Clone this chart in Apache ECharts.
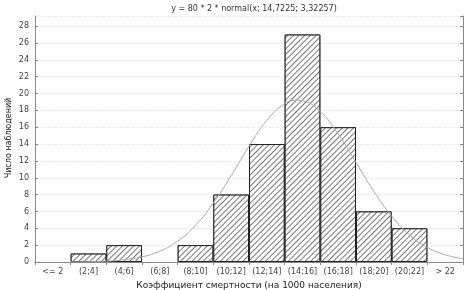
<!DOCTYPE html>
<html>
<head>
<meta charset="utf-8">
<script src="https://cdn.jsdelivr.net/npm/echarts@6/dist/echarts.min.js"></script>
<style>
  html, body { margin: 0; padding: 0; background: #fff; }
  #chart { width: 465px; height: 290px; }
</style>
</head>
<body>
<div id="chart"></div>
<script>
// категории (интервалы коэффициента)
var categories = ['<= 2', '(2;4]', '(4;6]', '(6;8]', '(8;10]', '(10;12]', '(12;14]', '(14;16]', '(16;18]', '(18;20]', '(20;22]', '> 22'];
// число наблюдений
var counts = [0, 1, 2, 0, 2, 8, 14, 27, 16, 6, 4, 0];
// кривая нормального распределения
var curveX = [2, 4, 5, 6, 7, 8, 9, 10, 11, 12, 13, 14, 14.7, 15, 16, 17, 18, 19, 20, 21, 22, 23, 24];
var curveY = [0.01, 0.1, 0.27, 0.61, 1.29, 2.48, 4.36, 7.0, 10.26, 13.73, 16.8, 18.77, 19.21, 19.14, 17.84, 15.19, 11.81, 8.39, 5.45, 3.22, 1.74, 0.86, 0.39];
var title = 'y = 80 * 2 * normal(x; 14,7225; 3,32257)';
var yName = 'Число наблюдений';

var curveData = [];
for (let i = 0; i < curveX.length; i++) {
  curveData.push([curveX[i], curveY[i]]);
}
// пустые интервалы не рисуем (иначе рамка столбца даёт черту по оси)
var barData = counts.map(function (v) { return v === 0 ? '-' : v; });

var font = 'DejaVu Sans';
var chart = echarts.init(document.getElementById('chart'));

var option = {
  animation: false,
  title: {
    text: title,
    left: 249,
    textAlign: 'center',
    top: 0,
    textStyle: { fontFamily: font, fontSize: 8, fontWeight: 'normal', color: '#333' }
  },
  // подпись оси Y отдельно, т.к. nameGap сдвигается автоматически
  graphic: [{
    type: 'text',
    x: 9,
    y: 138,
    rotation: Math.PI / 2,
    style: {
      text: yName,
      fontFamily: font,
      fontSize: 8,
      fill: '#222',
      align: 'center',
      verticalAlign: 'middle'
    }
  }],
  grid: { left: 35, right: 2, top: 16, bottom: 28, outerBoundsMode: 'none', containLabel: false },
  xAxis: [
    {
      type: 'category',
      data: categories,
      position: 'bottom',
      boundaryGap: true,
      name: 'Коэффициент смертности (на 1000 населения)',
      nameLocation: 'middle',
      nameGap: 19,
      nameTextStyle: { fontFamily: font, fontSize: 9, color: '#222' },
      axisLine: { lineStyle: { color: '#888' } },
      axisTick: { show: false },
      axisLabel: { fontFamily: font, fontSize: 8, color: '#444', interval: 0, margin: 6 }
    },
    {
      type: 'value',
      min: 0,
      max: 24,
      interval: 2,
      position: 'top',
      axisLine: { show: true, lineStyle: { color: '#888' } },
      axisTick: { show: true, inside: true, length: 3, lineStyle: { color: '#888' } },
      axisLabel: { show: false },
      splitLine: { show: false }
    }
  ],
  yAxis: [
    {
      type: 'value',
      min: 0,
      max: 29.2,
      interval: 2,
      axisLine: { show: true, lineStyle: { color: '#888' } },
      axisTick: { show: true, inside: true, length: 3, lineStyle: { color: '#888' } },
      axisLabel: { fontFamily: font, fontSize: 8, color: '#444', showMaxLabel: false, margin: 6 },
      splitLine: { show: true, lineStyle: { color: '#ececec', type: 'dashed' } }
    },
    {
      type: 'value',
      min: 0,
      max: 29.2,
      interval: 2,
      position: 'right',
      axisLine: { show: true, lineStyle: { color: '#888' } },
      axisTick: { show: true, inside: true, length: 3, lineStyle: { color: '#888' } },
      axisLabel: { show: false },
      splitLine: { show: false }
    }
  ],
  series: [
    {
      type: 'bar',
      data: barData,
      xAxisIndex: 0,
      yAxisIndex: 0,
      barCategoryGap: 0,
      itemStyle: {
        color: '#fff',
        borderColor: '#222',
        borderWidth: 1,
        decal: {
          symbol: 'rect',
          color: '#777',
          backgroundColor: '#fff',
          dashArrayX: [1, 0],
          dashArrayY: [1, 3],
          rotation: -Math.PI / 4
        }
      }
    },
    {
      type: 'line',
      data: curveData,
      xAxisIndex: 1,
      yAxisIndex: 0,
      smooth: true,
      showSymbol: false,
      z: 5,
      lineStyle: { color: '#aaa', width: 1 }
    }
  ]
};

chart.setOption(option);
</script>
</body>
</html>
